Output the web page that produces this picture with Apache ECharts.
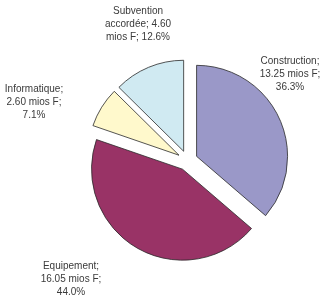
<!DOCTYPE html>
<html>
<head>
<meta charset="utf-8">
<script src="https://cdn.jsdelivr.net/npm/echarts@6/dist/echarts.min.js"></script>
<style>
html,body{margin:0;padding:0;background:#fff;}
#c{width:333px;height:301px;}
</style>
</head>
<body>
<div id="c"></div>
<script>
const categories = ['Construction', 'Equipement', 'Informatique', 'Subvention accordée'];
const values = [13.25, 16.05, 2.60, 4.60];
const unit = 'mios F';

const colors = ['#9A98C8', '#993366', '#FFF9CC', '#D0EAF2'];
// label centre positions (layout only)
const labelPos = [[290, 74], [71, 279], [34, 102], [138, 24]];
const FONT = '10px "Liberation Sans", Arial, sans-serif';
const WRAP = 74;

const ctx = document.createElement('canvas').getContext('2d');
ctx.font = FONT;
function wrap(text) {
  const words = text.split(' ');
  const lines = [];
  let cur = '';
  for (const w of words) {
    const t = cur ? cur + ' ' + w : w;
    if (cur && ctx.measureText(t).width > WRAP) { lines.push(cur); cur = w; }
    else cur = t;
  }
  if (cur) lines.push(cur);
  return lines.join('\n');
}

const total = values.reduce((a, b) => a + b, 0);
const labelTexts = categories.map((n, i) =>
  wrap(`${n}; ${values[i].toFixed(2)} ${unit}; ${(values[i] / total * 100).toFixed(1)}%`));

const chart = echarts.init(document.getElementById('c'), null, {renderer: 'canvas'});
chart.setOption({
  animation: false,
  graphic: labelTexts.map((t, i) => ({
    type: 'text',
    x: labelPos[i][0],
    y: labelPos[i][1],
    silent: true,
    style: {
      text: t,
      fontFamily: '"Liberation Sans", Arial, sans-serif',
      fontSize: 10,
      lineHeight: 13,
      fill: '#3a3a3a',
      align: 'center',
      verticalAlign: 'middle'
    }
  })),
  series: [{
    type: 'pie',
    center: [187.5, 160.5],
    radius: 91,
    startAngle: 90,
    clockwise: true,
    selectedMode: 'multiple',
    selectedOffset: 10,
    emphasis: {disabled: true},
    itemStyle: {borderColor: '#2a2a2a', borderWidth: 0.8},
    label: {show: false},
    labelLine: {show: false},
    data: categories.map((n, i) => ({
      name: n, value: values[i], selected: true,
      itemStyle: {color: colors[i]}
    }))
  }]
});
</script>
</body>
</html>
